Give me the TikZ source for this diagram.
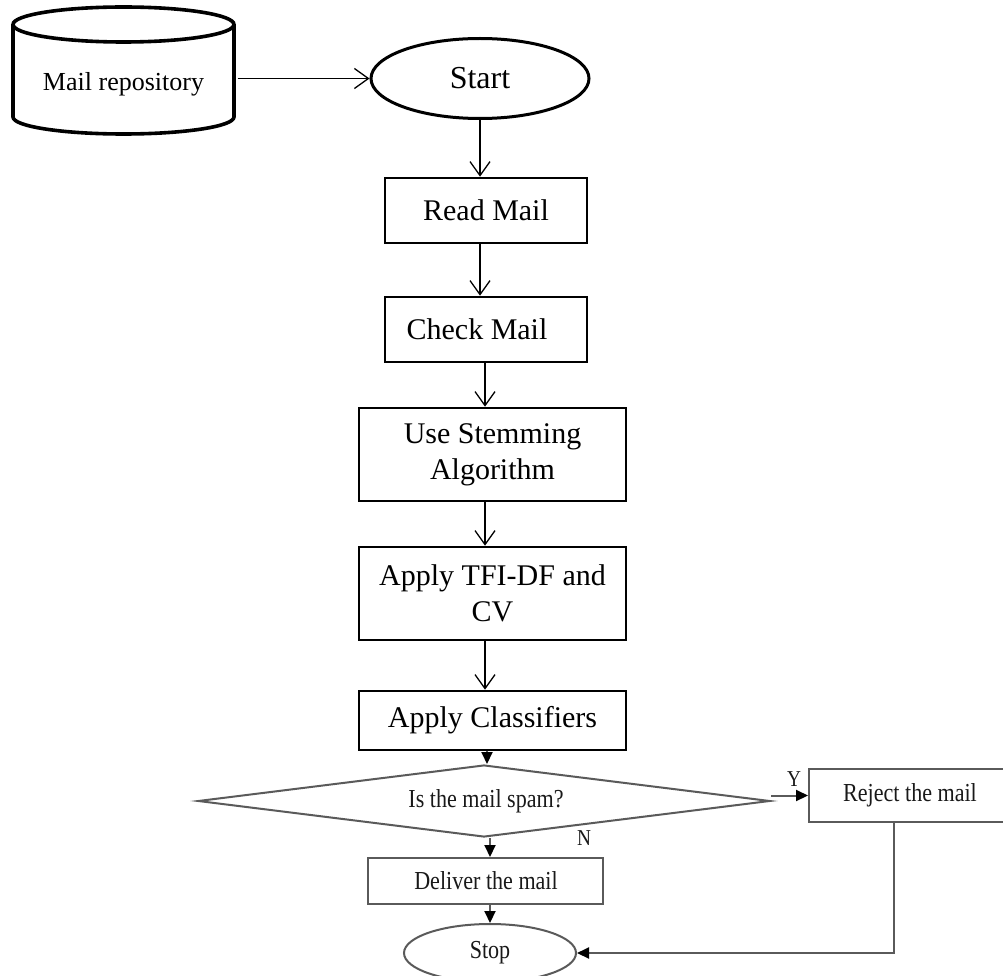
\documentclass[tikz,border=0pt]{standalone}
\usepackage{fontspec}
\setmainfont{Liberation Serif}
\usetikzlibrary{arrows.meta,shapes.geometric,calc}
\definecolor{lgray}{HTML}{5A5A5A}
\begin{document}
\begin{tikzpicture}[x=1pt,y=1pt,
  topbox/.style={draw=black,line width=2.6pt,rectangle,inner sep=0pt,align=center,
    font=\fontsize{30}{36}\selectfont},
  toparrow/.style={draw=black,line width=1.3pt,-{Straight Barb[length=14pt,width=20pt]}},
  botbox/.style={draw=lgray,line width=2pt,rectangle,inner sep=0pt,align=center},
  botarrow/.style={draw=lgray,line width=2pt,-{Triangle[length=12pt,width=11pt,black]}},
  bottext/.style={font=\fontsize{24}{28}\selectfont,xscale=0.92,yscale=1.08,text=black!90},
  yntext/.style={font=\fontsize{21}{24}\selectfont,xscale=0.92,yscale=1.08,text=black!90}]
\useasboundingbox (0,0) rectangle (1003,-976);
\clip (0,0) rectangle (1003,-976);

% Mail repository (cylinder)
\node[draw=none,minimum width=228pt,minimum height=120pt,inner sep=0pt,
  font=\fontsize{26}{30}\selectfont] (repo) at (123.5,-78.5) {\raisebox{-12pt}[0pt][0pt]{Mail repository}};
\draw[line width=3.6pt] (13,-24.5) -- (13,-117)
  arc[start angle=180,end angle=360,x radius=110.5pt,y radius=17pt] -- (234,-24.5);
\draw[line width=3.6pt] (123.5,-24.5) ellipse [x radius=110.5pt, y radius=17.5pt];

% Start
\node[ellipse,draw=black,line width=3pt,minimum width=218pt,minimum height=80pt,inner sep=0pt,
  font=\fontsize{32}{36}\selectfont] (start) at (480,-78.5) {Start};

% top boxes
\node[topbox,minimum width=202pt,minimum height=65pt] (read) at (486,-210.5) {Read Mail};
\node[topbox,minimum width=202pt,minimum height=65pt] (check) at (486,-329.5) {Check Mail\hspace{18pt}};
\node[topbox,minimum width=267pt,minimum height=93pt] (stem) at (492.5,-454.5) {Use Stemming\\Algorithm};
\node[topbox,minimum width=267pt,minimum height=93pt] (tfi) at (492.5,-593.5) {Apply TFI-DF and\\CV};
\node[topbox,minimum width=267pt,minimum height=59pt] (cls) at (492.5,-720.5) {Apply Classifiers};

% decision
\node[diamond,draw=lgray,line width=2pt,minimum width=572pt,minimum height=72pt,aspect=7.94,
  inner sep=0pt] (dia) at (484,-801) {};
\node[bottext] (diatext) at (486,-801) {Is the mail spam?};
\node[botbox,minimum width=210pt,minimum height=53pt] (reject) at (914,-795.5) {};
\node[bottext] (rejtext) at (910,-795.5) {Reject the mail};
\node[botbox,minimum width=235pt,minimum height=46pt] (deliver) at (485.5,-881) {};
\node[bottext] (deltext) at (486,-881) {Deliver the mail};
\node[ellipse,draw=lgray,line width=2pt,minimum width=172pt,minimum height=58pt,inner sep=0pt] (stop) at (490,-953) {};
\node[bottext] (stoptext) at (490,-953) {Stop};
\node[yntext] (ylab) at (794,-779) {Y};
\node[yntext] (nlab) at (584,-838) {N};

% helper points
\coordinate (c1) at ([xshift=-5.5pt]cls.south);
\coordinate (c2) at ([xshift=4.5pt]deliver.north);
\coordinate (c3) at ([xshift=4.5pt]deliver.south);
\coordinate (c4) at ([xshift=86pt]reject.south west);

% connectors top
\draw[toparrow] (repo.east) -- (start.west);
\draw[toparrow] (start.south) -- (start.south |- read.north);
\draw[toparrow] (read.south -| start.south) -- (start.south |- check.north);
\draw[toparrow] ([xshift=-1pt]check.south) -- ([xshift=-1pt]check.south |- stem.north);
\draw[toparrow] ([xshift=-7.5pt]stem.south) -- ([xshift=-7.5pt]stem.south |- tfi.north);
\draw[toparrow] ([xshift=-7.5pt]tfi.south) -- ([xshift=-7.5pt]tfi.south |- cls.north);

% connectors bottom
\draw[botarrow] (c1) -- (c1 |- dia.north);
\draw[botarrow] (c2 |- dia.south) -- (c2);
\draw[botarrow] (c3) -- (c3 |- stop.north);
\draw[botarrow] (dia.east |- reject.west) -- (reject.west);
\draw[botarrow] (c4) |- (stop.east);
\end{tikzpicture}
\end{document}
